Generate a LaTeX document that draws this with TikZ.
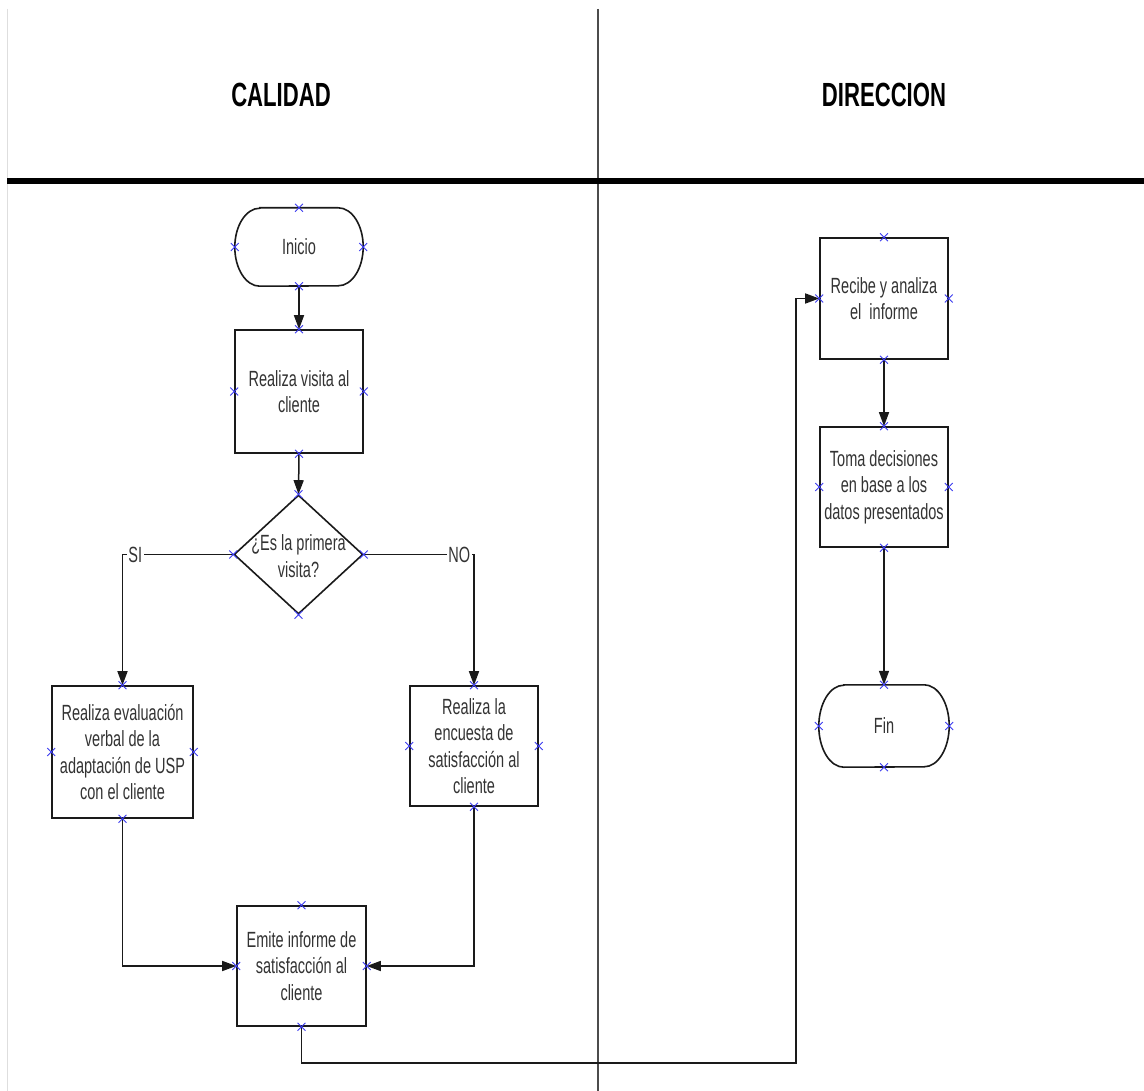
\documentclass[tikz,border=0pt]{standalone}
\usepackage{fontspec}
\setmainfont[FakeStretch=0.66]{Liberation Sans}
\usetikzlibrary{arrows.meta,shapes.geometric,shapes.misc}
\definecolor{ink}{HTML}{333333}
\definecolor{edge}{HTML}{1A1A1A}
\definecolor{pinblue}{HTML}{3A3AF0}
% four blue connection marks on a shape
\newcommand\pinmarks[1]{%
  \foreach \side in {north,south,east,west}
    \node[pin mark] (#1-\side) at (#1.\side) {};}
% start/end terminal outline with flattened round ends (#2 = half height)
\newcommand\terminalpath[2]{%
  \draw[boxline] ([xshift=25pt]#1.north west) -- ([xshift=-25pt]#1.north east)
    arc[start angle=90,end angle=-90,x radius=25pt,y radius=#2]
    -- ([xshift=25pt]#1.south west)
    arc[start angle=270,end angle=90,x radius=25pt,y radius=#2]
    -- cycle;}
\begin{document}
\begin{tikzpicture}[x=1pt,y=-1pt,
  font=\fontsize{22}{26.5}\selectfont,
  boxline/.style={draw=edge,line width=1.6pt},
  process/.style={rectangle,boxline,inner sep=0pt,text=ink,align=center},
  terminal/.style={rectangle,inner sep=0pt,text=ink,align=center},
  decision/.style={diamond,boxline,inner sep=0pt},
  flow/.style={draw=edge,line width=1.5pt,-{Triangle[length=14pt,width=10pt]}},
  pin mark/.style={cross out,draw=pinblue,line width=0.9pt,minimum size=7pt,inner sep=0pt},
  lane head/.style={font=\fontsize{33.5}{40}\selectfont\bfseries,text=black},
  branch/.style={fill=white,inner sep=1.5pt,text=ink}]
\useasboundingbox (0,0) rectangle (1144,1091);
\fill[white] (0,0) rectangle (1144,1091);

% swimlanes
\draw[line width=1.5pt,draw=black!13] (7.5,9) -- (7.5,1091);
\draw[line width=1.5pt,draw=black!70] (598,9) -- (598,1091);
\draw[line width=6pt,draw=black] (7,181) -- (1144,181);
\node[lane head] (hcal) at (281,95) {CALIDAD};
\node[lane head] (hdir) at (884,95) {DIRECCION};

% CALIDAD lane
\node[terminal,minimum width=128pt,minimum height=78pt] (ini) at (299,247) {Inicio};
\node[process,minimum width=128pt,minimum height=123pt] (vis) at (299,391.5) {Realiza visita al\\cliente};
\node[decision,minimum width=129pt,minimum height=119pt] (dec) at (298.5,554.5) {};
\node[text=ink,align=center] (dectxt) at (298.5,556) {¿Es la primera\\visita?};
\node[process,minimum width=141pt,minimum height=132pt] (eva) at (122.5,752) {Realiza evaluación\\verbal de la\\adaptación de USP\\con el cliente};
\node[process,minimum width=128pt,minimum height=120pt] (enc) at (474,746) {Realiza la\\encuesta de\\satisfacción al\\cliente};
\node[process,minimum width=129pt,minimum height=120pt] (emi) at (301.5,966) {Emite informe de\\satisfacción al\\cliente};

% DIRECCION lane
\node[process,minimum width=128pt,minimum height=121pt] (rec) at (884,298.5) {Recibe y analiza\\el\ \ informe};
\node[process,minimum width=128pt,minimum height=120pt] (tom) at (884,487) {Toma decisiones\\en base a los\\datos presentados};
\node[terminal,minimum width=130pt,minimum height=82pt] (fin) at (884,726) {Fin};

\terminalpath{ini}{39pt}
\terminalpath{fin}{41pt}

% connectors
\coordinate (lanejump) at (796,1063);
\draw[flow] (ini.south) -- (vis.north);
\draw[flow] (vis.south) -- (dec.north);
\draw[flow] (dec.west) -| node[branch,pos=0.442] {SI} (eva.north);
\draw[flow] (dec.east) -| node[branch,pos=0.433] {NO} (enc.north);
\draw[flow] (eva.south) |- (emi.west);
\draw[flow] (enc.south) |- (emi.east);
\draw[flow] (emi.south) |- (lanejump) |- (rec.west);
\draw[flow] (rec.south) -- (tom.north);
\draw[flow] (tom.south) -- (fin.north);

% connection marks
\pinmarks{ini}
\pinmarks{vis}
\pinmarks{dec}
\pinmarks{eva}
\pinmarks{enc}
\pinmarks{emi}
\pinmarks{rec}
\pinmarks{tom}
\pinmarks{fin}
\end{tikzpicture}
\end{document}
